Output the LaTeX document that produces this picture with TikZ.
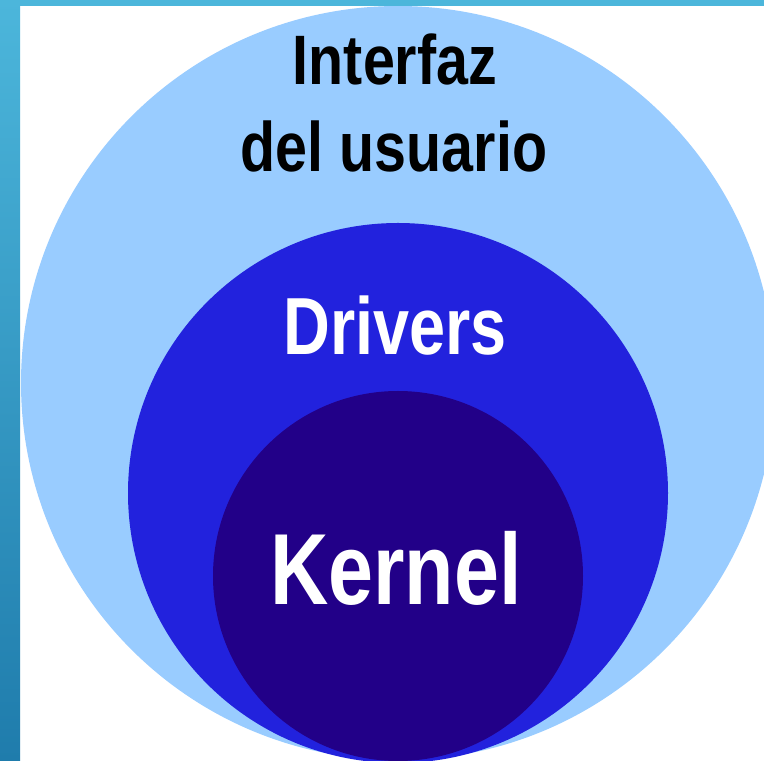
\documentclass[tikz,border=0pt]{standalone}
\usepackage{fontspec}
\usepackage{xcolor}
\usepackage{tikz}
\usetikzlibrary{positioning}
\newfontfamily\layerfont[FakeStretch=0.8]{Liberation Sans}
\newfontfamily\userfont[FakeStretch=0.82]{Liberation Sans}
\definecolor{userblue}{RGB}{153,204,255}
\definecolor{driverblue}{RGB}{34,34,221}
\definecolor{kernelviolet}{RGB}{34,0,136}
\definecolor{bartop}{RGB}{76,182,219}
\definecolor{barbottom}{RGB}{31,124,172}

\begin{document}
\begin{tikzpicture}[x=1pt, y=1pt, layer/.style={circle,inner sep=0pt,outer sep=0pt}, lbl/.style={anchor=base,inner sep=0pt}]
\fill[white] (0,0) rectangle (764,761);
% nested layers, all touching at the bottom
\begin{scope}
\clip (0,0) rectangle (764,761);
\node[layer,fill=userblue,minimum size=754] (user) at (398,378) {};
\node[layer,fill=driverblue,minimum size=540] (drivers) at (398,268) {};
\node[layer,fill=kernelviolet,minimum size=370] (kernel) at (398,185) {};
\end{scope}
\node[lbl,font={\userfont\bfseries\fontsize{70}{84}\selectfont}] (interfaz) at (395,676) {Interfaz};
\node[lbl,font={\userfont\bfseries\fontsize{70}{84}\selectfont}] (usuario) at (394,589) {del usuario};
\node[lbl,text=white,font={\layerfont\bfseries\fontsize{81}{97}\selectfont}] (drvlbl) at (395,406) {Drivers};
\node[lbl,text=white,font={\layerfont\bfseries\fontsize{101}{121}\selectfont}] (krnlbl) at (396,156) {Kernel};
% frame bars
\shade[top color=bartop,bottom color=barbottom] (0,0) rectangle (20,761);
\fill[bartop] (0,755) rectangle (764,761);
\end{tikzpicture}
\end{document}
